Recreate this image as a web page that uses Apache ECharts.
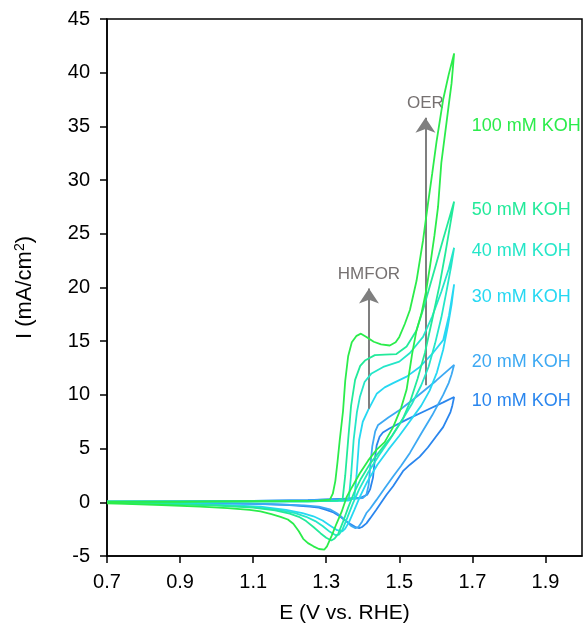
<!DOCTYPE html>
<html>
<head>
<meta charset="utf-8">
<script src="https://cdn.jsdelivr.net/npm/echarts@6/dist/echarts.min.js"></script>
<style>
html,body{margin:0;padding:0;background:#fff;}
#chart{width:583px;height:623px;}
</style>
</head>
<body>
<div id="chart"></div>
<script>
// ---- data: CV curves [E (V vs RHE), I (mA/cm2)], forward then reverse scan ----
const cv10 = [[0.70,0.05],[0.90,0.08],[1.10,0.12],[1.25,0.2],[1.35,0.33],[1.392,0.4],[1.412,0.7],[1.42,1.2],[1.428,2.3],[1.433,4.0],[1.438,5.3],[1.446,6.1],[1.455,6.5],[1.474,6.9],[1.52,7.7],[1.57,8.5],[1.62,9.3],[1.65,9.8],
  [1.645,9.0],[1.64,8.4],[1.62,7.0],[1.60,6.1],[1.578,5.1],[1.556,4.25],[1.529,3.5],[1.51,2.9],[1.483,1.5],[1.465,0.7],[1.45,-0.05],[1.437,-0.7],[1.42,-1.5],[1.41,-1.96],[1.398,-2.3],[1.39,-2.4],[1.38,-2.3],[1.365,-2.0],[1.35,-1.65],[1.337,-1.3],[1.32,-0.95],[1.30,-0.7],[1.28,-0.5],[1.255,-0.4],[1.2,-0.25],[1.1,-0.12],[0.90,-0.05],[0.70,0.0]];
const cv20 = [[0.70,0.05],[0.90,0.08],[1.10,0.12],[1.25,0.2],[1.35,0.3],[1.40,0.4],[1.41,0.7],[1.416,1.6],[1.421,3.5],[1.426,5.2],[1.434,6.6],[1.442,7.2],[1.47,7.9],[1.501,8.6],[1.55,9.9],[1.60,11.3],[1.65,12.8],
  [1.643,11.9],[1.635,11.1],[1.62,10.0],[1.59,8.1],[1.56,6.4],[1.529,4.6],[1.505,3.4],[1.483,2.4],[1.46,1.3],[1.437,0.2],[1.42,-0.6],[1.41,-1.0],[1.398,-1.8],[1.388,-2.3],[1.38,-2.4],[1.368,-2.2],[1.356,-1.8],[1.342,-1.35],[1.328,-1.0],[1.31,-0.65],[1.28,-0.4],[1.24,-0.28],[1.15,-0.18],[1.00,-0.1],[0.85,-0.05],[0.70,0.0]];
const cv30 = [[0.70,0.05],[0.90,0.05],[1.10,0.08],[1.25,0.1],[1.36,0.15],[1.377,0.4],[1.383,2.5],[1.39,5.8],[1.40,7.5],[1.415,8.6],[1.438,10.1],[1.46,10.7],[1.483,11.1],[1.52,11.7],[1.556,12.6],[1.592,13.9],[1.62,15.1],[1.636,17.4],[1.65,20.3],
  [1.643,18.4],[1.633,16.4],[1.62,14.2],[1.603,12.1],[1.583,10.4],[1.56,9.0],[1.53,7.6],[1.50,6.2],[1.47,4.9],[1.44,3.5],[1.412,1.9],[1.392,0.5],[1.377,-0.7],[1.363,-1.8],[1.352,-2.45],[1.344,-2.7],[1.33,-2.6],[1.31,-2.15],[1.29,-1.7],[1.265,-1.3],[1.235,-1.0],[1.19,-0.7],[1.12,-0.4],[1.00,-0.22],[0.85,-0.1],[0.70,-0.03]];
const cv40 = [[0.70,0.05],[0.90,0.05],[1.10,0.08],[1.25,0.1],[1.35,0.15],[1.362,0.4],[1.368,2.5],[1.375,5.8],[1.384,8.4],[1.392,9.8],[1.405,11.2],[1.424,12.0],[1.456,12.6],[1.50,13.1],[1.529,13.9],[1.565,15.4],[1.59,17.3],[1.615,19.6],[1.635,21.7],[1.65,23.7],
  [1.642,22.0],[1.63,19.8],[1.615,17.2],[1.598,14.8],[1.58,12.6],[1.56,10.9],[1.535,9.2],[1.505,7.5],[1.475,5.9],[1.445,4.4],[1.415,2.8],[1.39,1.2],[1.373,-0.1],[1.358,-1.4],[1.345,-2.5],[1.335,-3.0],[1.325,-3.05],[1.31,-2.75],[1.29,-2.2],[1.27,-1.75],[1.245,-1.35],[1.215,-1.0],[1.17,-0.7],[1.10,-0.45],[1.00,-0.25],[0.85,-0.12],[0.70,-0.04]];
const cv50 = [[0.70,0.05],[0.90,0.05],[1.10,0.08],[1.25,0.1],[1.33,0.15],[1.345,0.35],[1.352,2.5],[1.36,5.8],[1.368,9],[1.379,11.4],[1.393,12.7],[1.406,13.2],[1.433,13.7],[1.46,13.75],[1.492,13.8],[1.52,14.5],[1.547,16],[1.57,18.5],[1.595,21.5],[1.62,24.5],[1.65,28.0],
  [1.64,26],[1.625,23],[1.61,20.2],[1.59,17.0],[1.57,13.9],[1.55,11.5],[1.53,9.4],[1.51,7.8],[1.48,6.2],[1.45,4.9],[1.42,3.6],[1.395,2.2],[1.375,0.8],[1.36,-0.5],[1.345,-1.9],[1.332,-3.0],[1.322,-3.4],[1.314,-3.55],[1.30,-3.3],[1.285,-2.9],[1.265,-2.3],[1.245,-1.75],[1.225,-1.35],[1.2,-1.05],[1.16,-0.75],[1.10,-0.5],[1.00,-0.3],[0.85,-0.15],[0.70,-0.05]];
const cv100 = [[0.70,0.05],[0.80,0.05],[0.90,0.05],[1.00,0.08],[1.10,0.1],[1.20,0.12],[1.28,0.15],[1.31,0.25],[1.318,0.8],[1.325,2],[1.331,3.8],[1.337,5.8],[1.346,8.5],[1.352,11.3],[1.36,13.6],[1.37,14.9],[1.383,15.5],[1.395,15.7],[1.41,15.4],[1.43,14.95],[1.45,14.7],[1.474,14.6],[1.49,14.9],[1.50,15.4],[1.515,16.6],[1.529,17.9],[1.547,20.6],[1.565,24.4],[1.578,27.7],[1.59,30.6],[1.602,33.6],[1.62,37.5],[1.635,39.8],[1.65,41.8],
  [1.643,39],[1.636,37.2],[1.629,35.3],[1.615,31.6],[1.606,27.5],[1.596,24.8],[1.585,22.2],[1.573,19.6],[1.56,17.5],[1.547,16],[1.535,13.8],[1.52,10.5],[1.505,8.8],[1.483,7.0],[1.46,5.6],[1.438,4.9],[1.415,3.9],[1.392,2.7],[1.372,1.5],[1.356,0.5],[1.342,-0.9],[1.328,-2.0],[1.315,-3.1],[1.302,-4.1],[1.295,-4.4],[1.28,-4.35],[1.265,-4.1],[1.25,-3.8],[1.237,-3.4],[1.225,-2.7],[1.21,-2.0],[1.195,-1.6],[1.175,-1.35],[1.15,-1.1],[1.12,-0.85],[1.09,-0.7],[1.03,-0.55],[0.955,-0.4],[0.85,-0.25],[0.75,-0.15],[0.70,-0.1]];

const seriesNames = ['10 mM KOH','20 mM KOH','30 mM KOH','40 mM KOH','50 mM KOH','100 mM KOH'];
const seriesData = [cv10, cv20, cv30, cv40, cv50, cv100];

// label anchors (data coords) and annotation arrows (data coords)
const labelAnchors = [[1.698,9.4],[1.698,13.1],[1.698,19.1],[1.698,23.4],[1.698,27.2],[1.698,35.0]];
const arrowHMFOR = [[1.417,8.7],[1.417,19.9]];
const arrowOER = [[1.5715,10.9],[1.5715,35.8]];

const colors = ['#2A86EE','#3DA9F3','#26D8F2','#24E6C8','#22EA9A','#2BEC4B'];
const FONT = 'Liberation Sans, Arial, sans-serif';

const series = seriesData.map((d, k) => ({
  name: seriesNames[k],
  type: 'line',
  data: d,
  showSymbol: false,
  symbol: 'none',
  smooth: false,
  clip: true,
  lineStyle: { color: colors[k], width: 1.8 },
  z: 2 + k,
  markPoint: {
    symbol: 'circle', symbolSize: 0, silent: true,
    data: [{ coord: labelAnchors[k] }],
    label: { show: true, position: 'right', distance: 0, formatter: seriesNames[k],
             color: colors[k], fontSize: 18, fontFamily: FONT }
  }
}));

series.push({
  type: 'line', data: [], silent: true, z: 20,
  markLine: {
    silent: true, animation: false,
    symbol: ['none', 'arrow'], symbolSize: 15,
    lineStyle: { color: '#7F7F7F', width: 2, type: 'solid' },
    label: { show: true, position: 'end', distance: 6, formatter: '{b}',
             color: '#767171', fontSize: 17, fontFamily: FONT },
    data: [
      [{ name: 'HMFOR', coord: arrowHMFOR[0] }, { coord: arrowHMFOR[1] }],
      [{ name: 'OER', coord: arrowOER[0] }, { coord: arrowOER[1] }]
    ]
  }
});

const chart = echarts.init(document.getElementById('chart'), null, { renderer: 'canvas' });
chart.setOption({
  animation: false,
  backgroundColor: '#fff',
  grid: { left: 107, right: 1, top: 19, bottom: 67, show: true, borderColor: '#000', borderWidth: 1.5,
          backgroundColor: 'transparent', containLabel: false, outerBoundsMode: 'none' },
  xAxis: {
    type: 'value', min: 0.7, max: 2.0, interval: 0.2,
    name: 'E (V vs. RHE)', nameLocation: 'middle', nameGap: 47,
    nameTextStyle: { fontSize: 21, fontFamily: FONT, color: '#000' },
    axisLine: { show: true, onZero: false, lineStyle: { color: '#000', width: 1.5 } },
    axisTick: { show: true, inside: false, length: 7, lineStyle: { color: '#000', width: 1.5 } },
    axisLabel: { fontSize: 20, fontFamily: FONT, color: '#000', margin: 16, showMaxLabel: false,
                 formatter: v => (Math.round(v * 10) / 10).toFixed(1) },
    splitLine: { show: false }
  },
  yAxis: {
    type: 'value', min: -5, max: 45, interval: 5,
    name: '{a|I (mA/cm}{s|2}{a|)}', nameLocation: 'middle', nameGap: 70,
    nameTextStyle: { fontSize: 22, fontFamily: FONT, color: '#000',
      rich: {
        a: { fontSize: 22, fontFamily: FONT, color: '#000' },
        s: { fontSize: 14, fontFamily: FONT, color: '#000', padding: [0, 0, 10, 0] }
      }
    },
    axisLine: { show: true, onZero: false, lineStyle: { color: '#000', width: 1.5 } },
    axisTick: { show: true, inside: false, length: 7, lineStyle: { color: '#000', width: 1.5 } },
    axisLabel: { fontSize: 20, fontFamily: FONT, color: '#000', margin: 17 },
    splitLine: { show: false }
  },
  series: series
});
</script>
</body>
</html>
